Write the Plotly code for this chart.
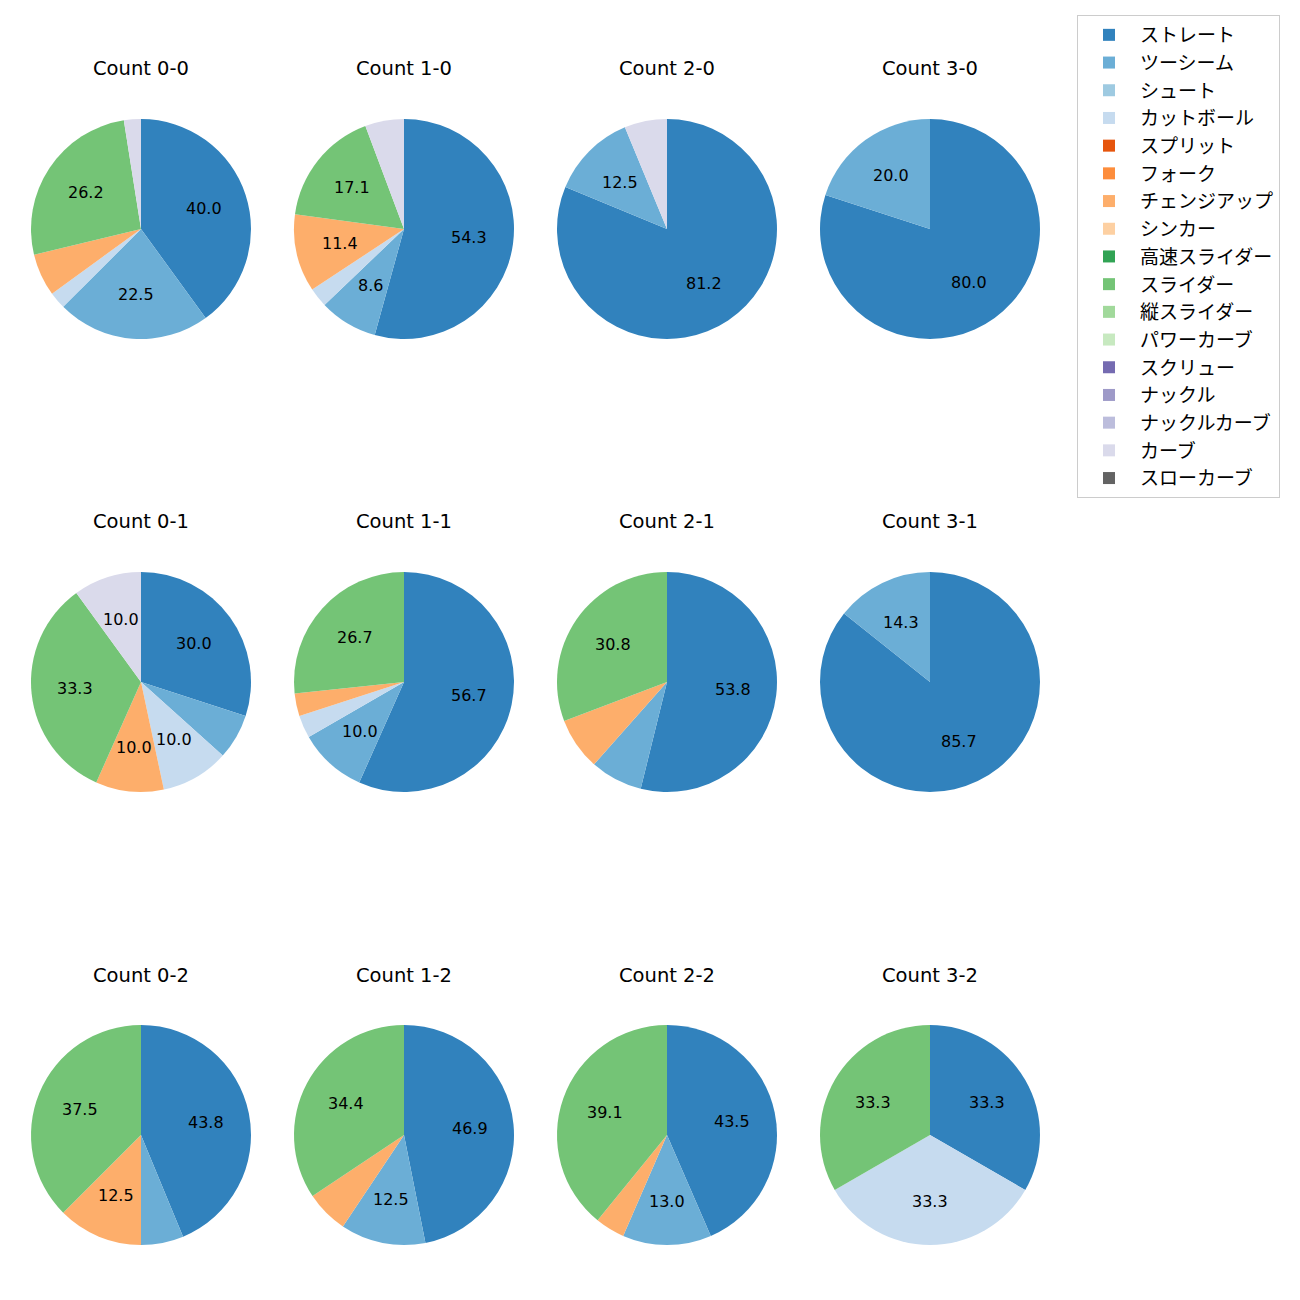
import math
import plotly.graph_objects as go

labels = ["ストレート", "ツーシーム", "シュート", "カットボール", "スプリット", "フォーク",
          "チェンジアップ", "シンカー", "高速スライダー", "スライダー", "縦スライダー",
          "パワーカーブ", "スクリュー", "ナックル", "ナックルカーブ", "カーブ", "スローカーブ"]
colors = ["#3182bd", "#6baed6", "#9ecae1", "#c6dbef", "#e6550d", "#fd8d3c",
          "#fdae6b", "#fdd0a2", "#31a354", "#74c476", "#a1d99b", "#c7e9c0",
          "#756bb1", "#9e9ac8", "#bcbddc", "#dadaeb", "#636363"]

# pitch counts per ball-strike count (order follows labels)
count_0_0 = [32, 18, 0, 2, 0, 0, 5, 0, 0, 21, 0, 0, 0, 0, 0, 2, 0]
count_1_0 = [19, 3, 0, 1, 0, 0, 4, 0, 0, 6, 0, 0, 0, 0, 0, 2, 0]
count_2_0 = [13, 2, 0, 0, 0, 0, 0, 0, 0, 0, 0, 0, 0, 0, 0, 1, 0]
count_3_0 = [4, 1, 0, 0, 0, 0, 0, 0, 0, 0, 0, 0, 0, 0, 0, 0, 0]
count_0_1 = [9, 2, 0, 3, 0, 0, 3, 0, 0, 10, 0, 0, 0, 0, 0, 3, 0]
count_1_1 = [17, 3, 0, 1, 0, 0, 1, 0, 0, 8, 0, 0, 0, 0, 0, 0, 0]
count_2_1 = [7, 1, 0, 0, 0, 0, 1, 0, 0, 4, 0, 0, 0, 0, 0, 0, 0]
count_3_1 = [6, 1, 0, 0, 0, 0, 0, 0, 0, 0, 0, 0, 0, 0, 0, 0, 0]
count_0_2 = [7, 1, 0, 0, 0, 0, 2, 0, 0, 6, 0, 0, 0, 0, 0, 0, 0]
count_1_2 = [15, 4, 0, 0, 0, 0, 2, 0, 0, 11, 0, 0, 0, 0, 0, 0, 0]
count_2_2 = [10, 3, 0, 0, 0, 0, 1, 0, 0, 9, 0, 0, 0, 0, 0, 0, 0]
count_3_2 = [1, 0, 0, 1, 0, 0, 0, 0, 0, 1, 0, 0, 0, 0, 0, 0, 0]

panels = [
    ("Count 0-0", count_0_0), ("Count 1-0", count_1_0), ("Count 2-0", count_2_0), ("Count 3-0", count_3_0),
    ("Count 0-1", count_0_1), ("Count 1-1", count_1_1), ("Count 2-1", count_2_1), ("Count 3-1", count_3_1),
    ("Count 0-2", count_0_2), ("Count 1-2", count_1_2), ("Count 2-2", count_2_2), ("Count 3-2", count_3_2),
]

OFF = 8  # page body margin
W, H = 1300 - OFF, 1300 - OFF
R = 110
col_cx = [141 - OFF, 404 - OFF, 667 - OFF, 930 - OFF]
row_cy = [229 - OFF, 682 - OFF, 1135 - OFF]
LATIN = "DejaVu Sans, Noto Sans CJK JP, sans-serif"
CJK = "Noto Sans CJK JP, sans-serif"

fig = go.Figure()
annotations = []
for i, (title, vals) in enumerate(panels):
    cx = col_cx[i % 4]
    cy = row_cy[i // 4]
    fig.add_trace(go.Pie(
        labels=labels, values=vals, sort=False, direction="clockwise", rotation=0,
        marker=dict(colors=colors, line=dict(width=0)),
        textinfo="none", hoverinfo="label+percent",
        domain=dict(x=[(cx - R) / W, (cx + R) / W], y=[1 - (cy + R) / H, 1 - (cy - R) / H]),
        showlegend=(i == 0),
    ))
    annotations.append(dict(
        text=title, x=cx / W, y=1 - (cy - 160) / H, xref="paper", yref="paper",
        xanchor="center", yanchor="middle", showarrow=False,
        font=dict(size=19.5, color="black", family=LATIN)))
    total = sum(vals)
    cum = 0
    for v in vals:
        if v == 0:
            continue
        frac = v / total
        pct = frac * 100
        if pct >= 8:
            th = 2 * math.pi * (cum + frac / 2)
            px = cx + 0.6 * R * math.sin(th)
            py = cy - 0.6 * R * math.cos(th)
            annotations.append(dict(
                text=f"{pct:.1f}", x=px / W, y=1 - py / H, xref="paper", yref="paper",
                xanchor="center", yanchor="middle", showarrow=False,
                font=dict(size=16, color="black", family=LATIN)))
        cum += frac

fig.update_layout(
    width=W, height=H, margin=dict(l=0, r=0, t=0, b=0),
    paper_bgcolor="white", plot_bgcolor="white",
    font=dict(family=CJK, size=19, color="black"),
    annotations=annotations,
    legend=dict(x=(1077 - OFF) / W, y=1 - (15 - OFF) / H, xanchor="left", yanchor="top",
                bordercolor="#cccccc", borderwidth=1, bgcolor="white",
                itemwidth=52,
                font=dict(size=19, family=CJK), traceorder="normal"),
)
fig.write_html("out.html")
